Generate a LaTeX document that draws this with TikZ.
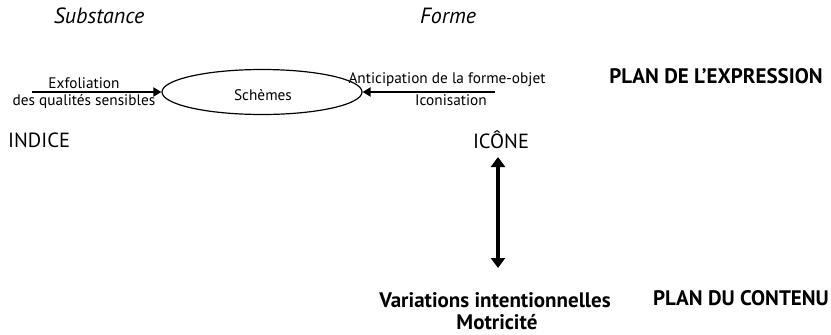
\documentclass[tikz,border=0pt]{standalone}
\usepackage{fontspec}
\setmainfont{PT Sans}
\usetikzlibrary{arrows.meta,shapes.geometric}
\begin{document}
\begin{tikzpicture}[x=1pt,y=-1pt,
  lbl/.style={inner sep=0pt, font=\fontsize{15.3}{16}\selectfont},
  big/.style={inner sep=0pt, font=\fontsize{20.5}{21}\selectfont},
  ital/.style={inner sep=0pt, font=\itshape\fontsize{22}{23}\selectfont},
  head/.style={inner sep=0pt, font=\bfseries\fontsize{21}{22}\selectfont},
  conn/.style={line width=2pt, -{Triangle[length=8pt,width=9pt]}},
  dconn/.style={line width=4pt, {Triangle[length=10pt,width=14pt]}-{Triangle[length=10pt,width=14pt]}}]
\useasboundingbox (0,0) rectangle (831,335);
\node[ital] (subst) at (99,16) {Substance};
\node[ital] (forme) at (448,16) {Forme};
\node[draw, line width=1.2pt, ellipse, minimum width=200pt, minimum height=45pt, inner sep=0pt] (sch) at (262,92) {};
\node[lbl] at (263,95) {Schèmes};
\coordinate (lstart) at (32,92);
\coordinate (rstart) at (495,92);
\draw[conn] (lstart) -- (sch.west);
\draw[conn] (rstart) -- (sch.east);
\node[lbl] (exf) at (84,83) {Exfoliation};
\node[lbl] (qual) at (84,102) {des qualités sensibles};
\node[lbl] (anti) at (447,80) {Anticipation de la forme-objet};
\node[lbl] (icon) at (451,100) {Iconisation};
\node[head] (pexp) at (716,76) {PLAN DE L’EXPRESSION};
\node[big, anchor=west] (indice) at (8,140) {INDICE};
\node[big] (icone) at (501,140) {ICÔNE};
\node[head] (var) at (495,300) {Variations intentionnelles};
\node[head] (mot) at (497,322) {Motricité};
\node[head] (pcont) at (741,298) {PLAN DU CONTENU};
\coordinate (vtop) at (498,157);
\coordinate (vbot) at (498,268);
\draw[dconn] (vtop) -- (vbot);
\end{tikzpicture}
\end{document}
